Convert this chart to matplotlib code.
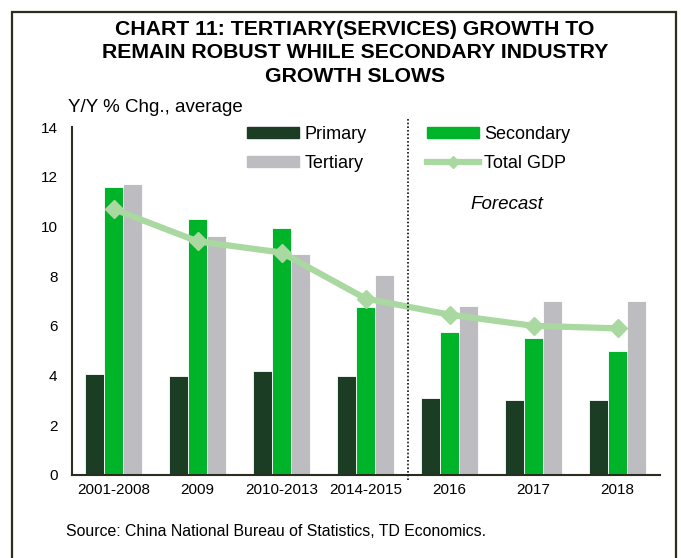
import matplotlib
matplotlib.use("Agg")
import matplotlib.pyplot as plt
from matplotlib.patches import Rectangle
from matplotlib.lines import Line2D
from matplotlib.patches import Patch
import numpy as np

plt.rcParams['font.family'] = ['Liberation Sans', 'DejaVu Sans']

categories = ["2001-2008", "2009", "2010-2013", "2014-2015", "2016", "2017", "2018"]
primary = [4.05, 4.0, 4.2, 4.0, 3.1, 3.0, 3.0]
secondary = [11.6, 10.3, 9.95, 6.75, 5.75, 5.5, 5.0]
tertiary = [11.7, 9.6, 8.9, 8.05, 6.8, 7.0, 7.0]
total_gdp = [10.7, 9.4, 8.95, 7.1, 6.45, 6.0, 5.9]
y_ticks = [0, 2, 4, 6, 8, 10, 12, 14]

c_primary = "#1a3d24"
c_secondary = "#00b42a"
c_tertiary = "#bdbcc1"
c_gdp = "#a9d9a0"
c_axis = "#2b2e1e"

fig = plt.figure(figsize=(6.81, 5.58), dpi=100)

# outer frame
fig.patches.append(Rectangle((12 / 681, -0.05), (676 - 12) / 681, 1 - 12 / 558 + 0.05,
                             transform=fig.transFigure, fill=False,
                             edgecolor=c_axis, linewidth=1.6))

ax = fig.add_axes([71.5 / 681, 1 - 475 / 558, 588 / 681, 348 / 558])

x = np.arange(len(categories))
w = 0.224
ax.bar(x - w, primary, w, color=c_primary, edgecolor="white", linewidth=0.6, zorder=2)
ax.bar(x, secondary, w, color=c_secondary, edgecolor="white", linewidth=0.6, zorder=2)
ax.bar(x + w, tertiary, w, color=c_tertiary, edgecolor="white", linewidth=0.6, zorder=2)
ax.plot(x, total_gdp, color=c_gdp, linewidth=4.5, marker="D", markersize=9,
        markerfacecolor=c_gdp, markeredgecolor=c_gdp, zorder=3, solid_capstyle="round")

ax.set_xlim(-0.5, len(categories) - 0.5)
ax.set_ylim(0, 14)
ax.set_yticks(y_ticks)
ax.set_yticklabels([str(t) for t in y_ticks], fontsize=11)
ax.set_xticks(x)
ax.set_xticklabels(categories, fontsize=11)
ax.tick_params(axis="both", length=0, pad=6)
ax.tick_params(axis="y", pad=10)
for s in ("top", "right"):
    ax.spines[s].set_visible(False)
for s in ("left", "bottom"):
    ax.spines[s].set_color(c_axis)
    ax.spines[s].set_linewidth(1.5)

# forecast divider
ax.plot([3.5, 3.5], [-0.2, 14.35], color="#111111", linestyle=(0, (1, 1.2)),
        linewidth=1.2, clip_on=False, zorder=4)
ax.text(4.68, 10.9, "Forecast", fontsize=13.5, fontstyle="italic", ha="center", va="center")

# legend entries ordered so rows read Primary/Secondary, Tertiary/Total GDP
handles = [Patch(color=c_primary), Patch(color=c_tertiary),
           Patch(color=c_secondary),
           Line2D([0], [0], color=c_gdp, linewidth=4.5, marker="D", markersize=6)]
labels = ["Primary", "Tertiary", "Secondary", "Total GDP"]
ax.legend(handles, labels, ncol=2, loc="upper left", bbox_to_anchor=(0.271, 1.05),
          frameon=False, fontsize=13, handlelength=2.9, handleheight=0.55,
          columnspacing=3.3, labelspacing=0.68, handletextpad=0.3)

fig.text(355 / 681, 1 - 53 / 558,
         "CHART 11: TERTIARY(SERVICES) GROWTH TO\nREMAIN ROBUST WHILE SECONDARY INDUSTRY\nGROWTH SLOWS",
         fontsize=15.3, fontweight="bold", ha="center", va="center", linespacing=1.3)
fig.text(68 / 681, 1 - 107 / 558, "Y/Y % Chg., average", fontsize=13.5, ha="left", va="center")
fig.text(66 / 681, 1 - 531 / 558, "Source: China National Bureau of Statistics, TD Economics.",
         fontsize=11.4, ha="left", va="center")

fig.savefig("out.png", dpi=100)
